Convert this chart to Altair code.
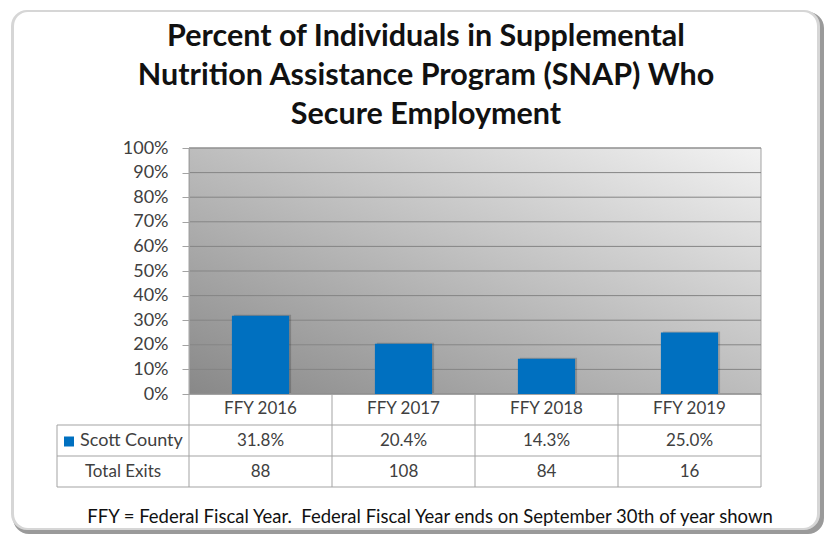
import altair as alt
import pandas as pd

# ---- data ----
categories = ["FFY 2016", "FFY 2017", "FFY 2018", "FFY 2019"]
scott_county = [0.318, 0.204, 0.143, 0.250]
total_exits = [88, 108, 84, 16]
y_ticks = [0.0, 0.1, 0.2, 0.3, 0.4, 0.5, 0.6, 0.7, 0.8, 0.9, 1.0]
row_labels = ["Scott County", "Total Exits"]
title_lines = ["Percent of Individuals in Supplemental",
               "Nutrition Assistance Program (SNAP) Who",
               "Secure Employment"]
footer = "FFY = Federal Fiscal Year.\u00a0 Federal Fiscal Year ends on September 30th of year shown"

df = pd.DataFrame({"cat": categories, "value": scott_county, "exits": total_exits})
grid_df = pd.DataFrame({"t": y_ticks})
one = alt.InlineData(values=[{"k": 0}])

FONT = "Lato"
TXT = "#404040"
LINE = "#a3a3a3"
BLUE = "#0070C0"
W, H = 572, 246
ROW1, ROW2, ROW3 = 277, 308, 339   # table row bottoms (pixels below plot top)

x_axis = alt.Axis(title=None, labelAngle=0, ticks=False, domain=True,
                  domainColor=LINE, labelPadding=6, labelFontSize=17,
                  labelColor=TXT, labelFont=FONT, zindex=1)
y_axis = alt.Axis(title=None, format=".0%", values=y_ticks, grid=False,
                  tickSize=7, tickColor=LINE, domainColor=LINE,
                  labelPadding=14, labelFontSize=18, labelColor=TXT,
                  labelFont=FONT, zindex=1)
x_scale = alt.Scale(paddingInner=0, paddingOuter=0)
y_scale = alt.Scale(domain=[0, 1])

# ---- frame ----
frame_dark = alt.Chart(one).mark_rect(fill="#9a9a9a", cornerRadius=16).encode(
    x=alt.value(-176), x2=alt.value(635), y=alt.value(-136), y2=alt.value(386))
frame_light = alt.Chart(one).mark_rect(fill="#d6d6d6", cornerRadius=16).encode(
    x=alt.value(-178), x2=alt.value(631), y=alt.value(-138), y2=alt.value(382))
frame_white = alt.Chart(one).mark_rect(fill="white", cornerRadius=14).encode(
    x=alt.value(-175), x2=alt.value(628), y=alt.value(-136), y2=alt.value(380))

# ---- plot background ----
plot_bg = alt.Chart(one).mark_rect(
    fill=alt.Gradient(gradient="linear", x1=0, y1=1, x2=1, y2=0,
                      stops=[alt.GradientStop(color="#888888", offset=0),
                             alt.GradientStop(color="#f2f2f2", offset=1)]),
    stroke=LINE, strokeWidth=1).encode(
    x=alt.value(0), x2=alt.value("width"), y=alt.value(0), y2=alt.value("height"))

grid = alt.Chart(grid_df).mark_rule(color="#858585", strokeWidth=1).encode(
    y=alt.Y("t:Q", scale=y_scale, axis=y_axis),
    x=alt.value(0), x2=alt.value("width"))

bar_shadow = alt.Chart(df).mark_bar(color="#000000", opacity=0.18,
                                    width=alt.RelativeBandSize(0.4),
                                    xOffset=2, yOffset=-1).encode(
    x=alt.X("cat:N", sort=categories, scale=x_scale, axis=x_axis),
    y=alt.Y("value:Q", scale=y_scale, axis=y_axis))

bars = alt.Chart(df).mark_bar(color=BLUE, width=alt.RelativeBandSize(0.4)).encode(
    x=alt.X("cat:N", sort=categories, scale=x_scale, axis=x_axis),
    y=alt.Y("value:Q", scale=y_scale, axis=y_axis))

# ---- data table ----
vlines = alt.Chart(df).mark_rule(color=LINE).encode(
    x=alt.X("cat:N", sort=categories, bandPosition=0, scale=x_scale, axis=x_axis),
    y=alt.value(H), y2=alt.value(ROW3))
vline_right = alt.Chart(one).mark_rule(color=LINE).encode(
    x=alt.value("width"), y=alt.value(H), y2=alt.value(ROW3))
vline_left = alt.Chart(one).mark_rule(color=LINE).encode(
    x=alt.value(-132), y=alt.value(ROW1), y2=alt.value(ROW3))
hlines = [alt.Chart(one).mark_rule(color=LINE).encode(
    x=alt.value(-132), x2=alt.value("width"), y=alt.value(r)) for r in (ROW1, ROW2, ROW3)]

val_text = alt.Chart(df).mark_text(font=FONT, fontSize=17, color=TXT, baseline="middle").encode(
    x=alt.X("cat:N", sort=categories, scale=x_scale, axis=x_axis),
    y=alt.value((ROW1 + ROW2) / 2),
    text=alt.Text("value:Q", format=".1%"))
exit_text = alt.Chart(df).mark_text(font=FONT, fontSize=17, color=TXT, baseline="middle").encode(
    x=alt.X("cat:N", sort=categories, scale=x_scale, axis=x_axis),
    y=alt.value((ROW2 + ROW3) / 2),
    text=alt.Text("exits:Q"))

swatch = alt.Chart(one).mark_square(color=BLUE, size=100, opacity=1).encode(
    x=alt.value(-120), y=alt.value((ROW1 + ROW2) / 2 + 1))
lab1 = alt.Chart(one).mark_text(font=FONT, fontSize=18, color=TXT, align="left",
                                baseline="middle", text=row_labels[0]).encode(
    x=alt.value(-109), y=alt.value((ROW1 + ROW2) / 2))
lab2 = alt.Chart(one).mark_text(font=FONT, fontSize=17, color=TXT, align="center",
                                baseline="middle", text=row_labels[1]).encode(
    x=alt.value(-66), y=alt.value((ROW2 + ROW3) / 2))

foot = alt.Chart(one).mark_text(font=FONT, fontSize=18.5, color="#111111", align="center",
                                baseline="middle", text=footer).encode(
    x=alt.value(241), y=alt.value(369))

chart = alt.layer(
    frame_dark, frame_light, frame_white, plot_bg, grid, bar_shadow, bars,
    vlines, vline_right, vline_left, *hlines,
    val_text, exit_text, swatch, lab1, lab2, foot
).properties(
    width=W, height=H,
    padding={"left": 181, "top": 140, "right": 63, "bottom": 140},
    autosize=alt.AutoSizeParams(type="none"),
    title=alt.TitleParams(text=title_lines, font=FONT, fontSize=30.5, fontWeight="bold",
                          color="#111111", lineHeight=39, anchor="middle",
                          frame="group", dx=-49, offset=-120),
).configure_view(stroke=None).configure(font=FONT)

chart.save("out.html", embed_options={"renderer": "svg", "actions": False})
